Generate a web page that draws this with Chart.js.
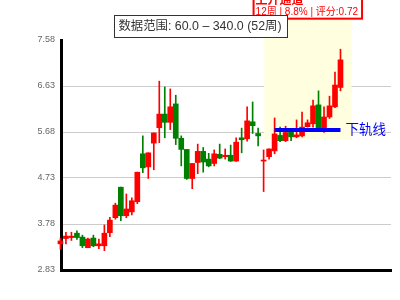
<!DOCTYPE html>
<html>
<head>
<meta charset="utf-8">
<script src="https://cdn.jsdelivr.net/npm/chart.js@4"></script>
<style>
  body { margin: 0; background: #fff; }
  canvas { display: block; }
</style>
</head>
<body>
<canvas id="myChart" width="400" height="300"></canvas>
<script>
// weekly candles, 52 weeks
const opens  = [3.37,3.48,3.50,3.59,3.51,3.29,3.49,3.33,3.33,3.60,3.91,4.54,3.95,4.03,4.24,5.23,4.96,5.45,5.77,6.05,5.88,6.26,5.55,5.32,4.72,5.05,5.28,5.12,5.03,5.22,5.17,5.20,5.08,5.56,5.54,5.89,5.65,5.08,5.17,5.29,5.61,5.50,5.68,5.58,5.60,5.79,5.85,6.24,5.74,5.99,6.20,6.60];
const closes = [3.43,3.53,3.53,3.50,3.33,3.47,3.33,3.37,3.59,3.86,4.17,3.95,4.09,4.26,4.85,4.94,5.25,5.66,6.05,5.88,6.20,5.55,5.32,4.72,5.03,5.28,5.06,4.98,5.23,5.14,5.20,5.08,5.47,5.52,5.91,5.81,5.60,5.10,5.33,5.64,5.50,5.67,5.58,5.62,5.78,5.87,6.22,5.74,5.99,6.22,6.65,7.17];
const highs  = [3.48,3.61,3.61,3.64,3.55,3.49,3.55,3.47,3.76,3.92,4.21,4.54,4.40,4.32,4.85,5.60,5.25,5.66,6.73,6.61,6.57,6.44,5.60,5.32,5.03,5.43,5.36,5.24,5.31,5.43,5.33,5.41,5.56,5.76,6.20,6.30,5.76,5.31,5.33,5.97,5.78,5.80,5.70,5.93,6.09,5.93,6.34,6.53,6.20,6.42,6.92,7.39];
const lows   = [3.26,3.37,3.44,3.46,3.29,3.29,3.31,3.27,3.23,3.52,3.88,3.85,3.91,3.97,4.20,4.84,4.72,4.90,5.46,5.56,5.73,5.42,4.98,4.70,4.51,4.82,4.85,4.96,4.98,5.13,5.12,5.07,5.07,5.25,5.49,5.65,5.39,4.45,5.12,5.23,5.48,5.48,5.50,5.56,5.58,5.78,5.78,5.72,5.67,5.96,6.18,6.53];

const yTicks = [2.83, 3.78, 4.73, 5.68, 6.63, 7.58];

// rising channel + lower rail
const channelX = [37.1, 53];
const channelY = [5.53, 8.0];
const channelName = '上升通道';
const channelInfo = '12周 | 8.8% | 评分:0.72';
const railX = [39, 51];
const railY = [5.72, 5.72];
const railLabel = '下轨线';
const rangeText = '数据范围: 60.0 – 340.0 (52周)';

const FAM = "'Liberation Sans', 'Noto Sans CJK SC', sans-serif";
const UP = '#ff0000';
const DOWN = '#008000';

const candleColor = (i) => closes[i] >= opens[i] ? UP : DOWN;

const bodies = opens.map((o, i) => ({ x: i, y: [o, closes[i]] }));
const wicks = lows.map((l, i) => ({ x: i, y: [l, highs[i]] }));

const overlay = {
  id: 'overlay',
  beforeDatasetsDraw(chart) {
    const { ctx, scales: { x, y } } = chart;
    const left = x.getPixelForValue(channelX[0]);
    const right = x.getPixelForValue(channelX[1]);
    const top = y.getPixelForValue(channelY[1]);
    const bottom = y.getPixelForValue(channelY[0]);
    ctx.save();
    ctx.fillStyle = '#ffffe0';
    ctx.fillRect(left, top, right - left, bottom - top);
    ctx.restore();
  },
  afterDatasetsDraw(chart) {
    const { ctx, scales: { x, y } } = chart;
    ctx.save();

    // rail label
    ctx.font = '13.5px ' + FAM;
    ctx.fillStyle = 'blue';
    ctx.textAlign = 'left';
    ctx.textBaseline = 'middle';
    ctx.fillText(railLabel, x.getPixelForValue(railX[1]) + 5, y.getPixelForValue(railY[1]));

    // channel label box
    const left = x.getPixelForValue(channelX[0]);
    const right = x.getPixelForValue(channelX[1]);
    const top = y.getPixelForValue(channelY[1]);
    ctx.font = '10px ' + FAM;
    const w2 = ctx.measureText(channelInfo).width;
    ctx.font = 'bold 12px ' + FAM;
    const w1 = ctx.measureText(channelName).width;
    const bw = Math.max(w1, w2) + 6;
    const bh = 30;
    const bx = (left + right) / 2 - bw / 2;
    const by = top - 1 - bh;
    ctx.fillStyle = '#fff';
    ctx.fillRect(bx, by, bw, bh);
    ctx.strokeStyle = 'red';
    ctx.lineWidth = 2;
    ctx.strokeRect(bx, by, bw, bh);
    ctx.fillStyle = 'red';
    ctx.fillText(channelName, bx + 2, by + bh - 18);
    ctx.font = '10px ' + FAM;
    ctx.fillText(channelInfo, bx + 2, by + bh - 6);

    // data range box
    ctx.font = '12.4px ' + FAM;
    const tw = ctx.measureText(rangeText).width;
    const tbw = Math.round(tw + 10);
    const tbx = Math.round(chart.width / 2 - tbw / 2) + 0.5;
    ctx.fillStyle = '#fff';
    ctx.fillRect(tbx, 15.5, tbw, 22);
    ctx.strokeStyle = '#333';
    ctx.lineWidth = 1;
    ctx.strokeRect(tbx, 15.5, tbw, 22);
    ctx.fillStyle = '#333';
    ctx.textAlign = 'center';
    ctx.fillText(rangeText, chart.width / 2, 27);

    ctx.restore();
  }
};

const config = {
  type: 'bar',
  data: {
    datasets: [
      {
        type: 'line',
        data: railX.map((v, i) => ({ x: v, y: railY[i] })),
        borderColor: 'blue',
        borderWidth: 4,
        pointRadius: 0,
        order: 0
      },
      {
        data: bodies,
        backgroundColor: (c) => candleColor(c.dataIndex),
        barThickness: 5,
        grouped: false,
        minBarLength: 1,
        clip: false,
        order: 1
      },
      {
        data: wicks,
        backgroundColor: (c) => candleColor(c.dataIndex),
        barThickness: 1,
        grouped: false,
        clip: false,
        order: 2
      }
    ]
  },
  options: {
    responsive: false,
    animation: false,
    events: [],
    layout: { padding: { top: 40, bottom: 30, right: 9, left: 0 } },
    plugins: {
      legend: { display: false },
      tooltip: { enabled: false },
      title: { display: false }
    },
    scales: {
      x: {
        type: 'linear',
        min: 0.1,
        max: 60.2,
        offset: false,
        ticks: { display: false },
        grid: { display: false, drawTicks: false },
        border: { color: '#000', width: 3 },
        afterFit: (scale) => { scale.height = 0; }
      },
      y: {
        min: yTicks[0],
        max: yTicks[yTicks.length - 1],
        afterBuildTicks: (scale) => { scale.ticks = yTicks.map(v => ({ value: v })); },
        afterFit: (scale) => { scale.width = 61; },
        ticks: {
          padding: 6,
          color: '#666',
          font: { family: FAM, size: 9 },
          callback: (v) => Number(v).toFixed(2)
        },
        grid: {
          drawTicks: false,
          color: (c) => (c.tick && c.tick.value === yTicks[yTicks.length - 1]) ? 'rgba(0,0,0,0)' : '#ccc',
          lineWidth: 1
        },
        border: { color: '#000', width: 3 }
      }
    }
  },
  plugins: [overlay]
};

const ctx = document.getElementById('myChart').getContext('2d');
const chart = new Chart(ctx, config);
</script>
</body>
</html>
